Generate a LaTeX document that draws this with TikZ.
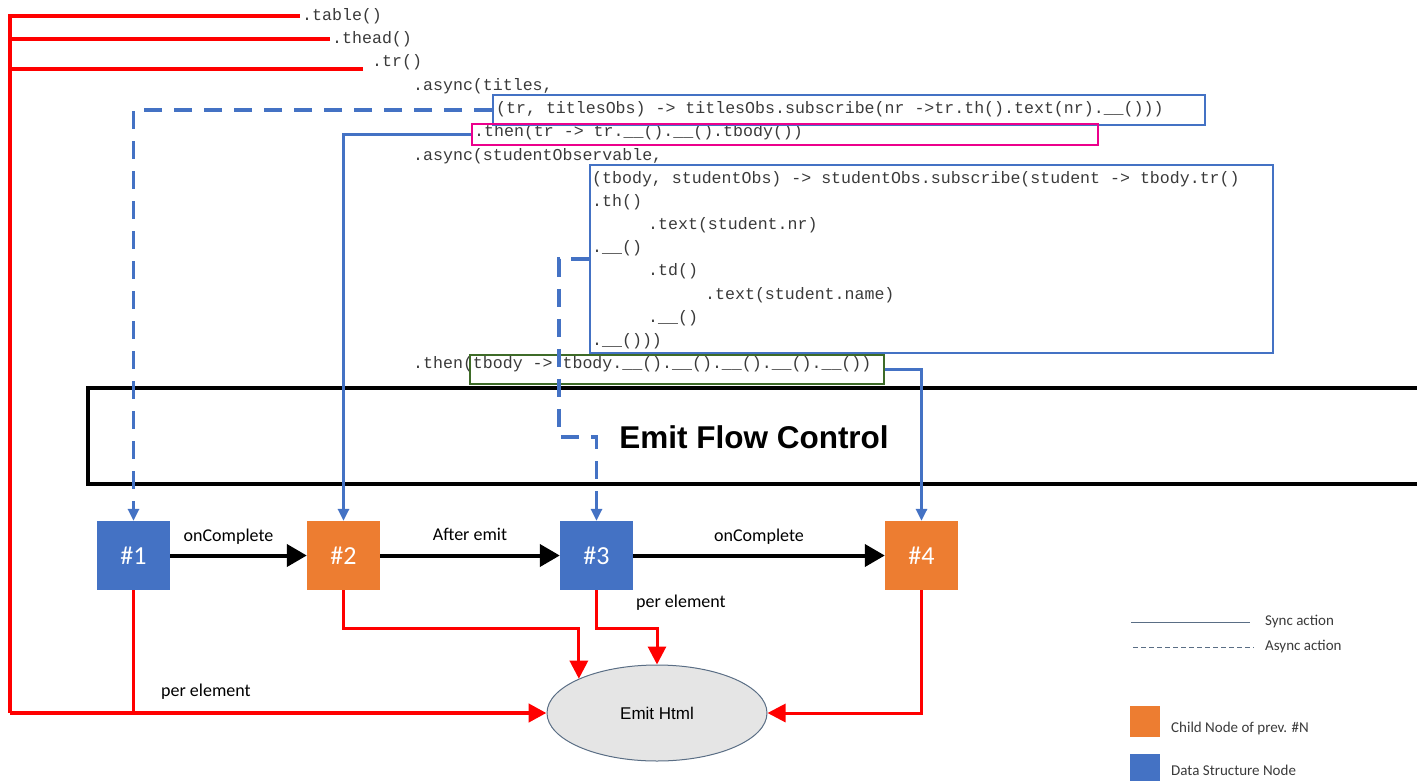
\documentclass[tikz,border=0pt]{standalone}
\usepackage{fontspec}
\setmainfont{Carlito}
\newfontfamily\codefont{Liberation Mono}
\newfontfamily\arialfont{Liberation Sans}
\usetikzlibrary{arrows.meta,shapes.geometric}
\definecolor{dsblue}{HTML}{4472C4}
\definecolor{chorange}{HTML}{ED7D31}
\definecolor{boxgreen}{HTML}{3E6B28}
\definecolor{codegray}{HTML}{3A3A3A}
\definecolor{legline}{HTML}{5A6E85}
\tikzset{
  code/.style={anchor=west,inner sep=0pt,text=codegray,font=\codefont\fontsize{16.6}{18}\selectfont},
  codebox/.style={draw,line width=1.6pt,inner sep=0pt},
  sqnode/.style={minimum width=73pt,minimum height=69pt,inner sep=0pt,text=white,font=\fontsize{26}{30}\selectfont},
  bluesync/.style={draw=dsblue,line width=3.5pt,-{Triangle[length=12pt,width=11pt]}},
  blueasync/.style={bluesync,dash pattern=on 18pt off 12pt},
  redline/.style={draw=red,line width=4.5pt},
  redthin/.style={draw=red,line width=3pt},
  redarrow/.style={-{Triangle[length=18pt,width=18pt]}},
  flowarrow/.style={draw=black,line width=4pt,-{Triangle[length=20pt,width=22pt]}},
  lbl/.style={font=\fontsize{18}{20}\selectfont,inner sep=0pt},
  leg/.style={anchor=west,inner sep=0pt,font=\fontsize{15}{17}\selectfont,text=codegray}
}
\begin{document}
\begin{tikzpicture}[x=1pt,y=-1pt]
\useasboundingbox (0,0) rectangle (1417,780);
% code lines
\node[code] (ltable) at (302,16) {.table()};
\node[code] (lthead) at (332,39) {.thead()};
\node[code] (ltr) at (372,62) {.tr()};
\node[code] (lasync1) at (413,86) {.async(titles,};
\node[code] (ltitles) at (496,109) {(tr, titlesObs) -> titlesObs.subscribe(nr ->tr.th().text(nr).\_\_()))};
\node[code] (lthen1) at (474,132) {.then(tr -> tr.\_\_().\_\_().tbody())};
\node[code] (lasync2) at (413,156) {.async(studentObservable,};
\node[code] (ls1) at (592,179) {(tbody, studentObs) -> studentObs.subscribe(student -> tbody.tr()};
\node[code] (ls2) at (592,202) {.th()};
\node[code] (ls3) at (648,225) {.text(student.nr)};
\node[code] (ls4) at (592,248) {.\_\_()};
\node[code] (ls5) at (648,271) {.td()};
\node[code] (ls6) at (705,295) {.text(student.name)};
\node[code] (ls7) at (648,318) {.\_\_()};
\node[code] (ls8) at (592,341) {.\_\_()))};
\node[code] (lthen2) at (413,364) {.then(tbody -> tbody.\_\_().\_\_().\_\_().\_\_().\_\_())};
% code boxes
\node[codebox,draw=dsblue,minimum width=712pt,minimum height=30pt] (tbox) at (849,110) {};
\node[codebox,draw=magenta,minimum width=626pt,minimum height=21pt] (pbox) at (785,134.5) {};
\node[codebox,draw=dsblue,minimum width=683pt,minimum height=188pt] (sbox) at (931.5,259) {};
\node[codebox,draw=boxgreen,minimum width=414pt,minimum height=29pt] (gbox) at (677,369.5) {};
% emit flow control
\node[draw=black,line width=4.5pt,minimum width=1350pt,minimum height=96pt,inner sep=0pt] (flow) at (763,436) {};
\node[font=\arialfont\bfseries\fontsize{31.5}{34}\selectfont,inner sep=0pt] (flowtxt) at (754,437) {Emit Flow Control};
% square nodes
\node[sqnode,fill=dsblue] (n1) at (133.5,555.5) {\#1};
\node[sqnode,fill=chorange] (n2) at (343.5,555.5) {\#2};
\node[sqnode,fill=dsblue] (n3) at (596.5,555.5) {\#3};
\node[sqnode,fill=chorange] (n4) at (921.5,555.5) {\#4};
% emit html
\node[ellipse,draw=legline,line width=1pt,fill=black!10,minimum width=220pt,minimum height=96pt,inner sep=0pt,font=\arialfont\fontsize{17}{20}\selectfont] (emit) at (657,713) {Emit Html};
% blue connectors
\draw[blueasync] (tbox.west) -| (n1.north);
\draw[bluesync] (pbox.west) -| (n2.north);
\coordinate (s1) at (559,259);
\coordinate (s2) at (559,437);
\coordinate (s3) at (596.5,437);
\draw[blueasync] (sbox.west) -- (s1) -- (s2) -- (s3) -- (n3.north);
\draw[bluesync] (gbox.east) -| (n4.north);
% flow arrows
\draw[flowarrow] (n1.east) -- node[lbl,above=9pt,xshift=-10pt] {onComplete} (n2.west);
\draw[flowarrow] (n2.east) -- node[lbl,above=13pt] {After emit} (n3.west);
\draw[flowarrow] (n3.east) -- node[lbl,above=9pt] {onComplete} (n4.west);
% red connectors
\coordinate (rt) at (10,16);
\coordinate (rb) at (10,713);
\coordinate (rth) at (10,39);
\coordinate (rtr) at (10,69);
\coordinate (trend) at (363,69);
\draw[redline,line join=miter] ([xshift=-2pt]ltable.west) -- (rt) -- (rb);
\draw[redline] ([xshift=-2pt]lthead.west) -- (rth);
\draw[redline] (trend) -- (rtr);
\draw[redline,redarrow] (rb) -- (emit.west);
\coordinate (j1) at (133.5,713);
\draw[redthin] (n1.south) -- (j1);
\draw[redthin,redarrow] (n2.south) -- ++(0,38) -| (emit.north west);
\draw[redthin,redarrow] (n3.south) -- ++(0,38) -| (emit.north);
\draw[redthin,redarrow] (n4.south) |- (emit.east);
\node[lbl,anchor=west] (pe1) at (161,692) {per element};
\node[lbl,anchor=west] (pe2) at (636,603) {per element};
% legend
\coordinate (la) at (1131,622); \coordinate (lb) at (1250,622);
\draw[legline,line width=1pt] (la) -- (lb);
\node[leg] (lsync) at (1265,622) {Sync action};
\coordinate (lc) at (1133,647); \coordinate (ld) at (1254,647);
\draw[legline,line width=1pt,dash pattern=on 5pt off 3pt] (lc) -- (ld);
\node[leg] (lasync) at (1265,647) {Async action};
\node[fill=chorange,minimum width=30pt,minimum height=31pt,inner sep=0pt] (lorange) at (1145,721.5) {};
\node[leg] (lchild) at (1171,728) {Child Node of prev. \#N};
\node[fill=dsblue,minimum width=30pt,minimum height=31pt,inner sep=0pt] (lblue) at (1145,769.5) {};
\node[leg] (ldata) at (1171,770) {Data Structure Node};
\end{tikzpicture}
\end{document}
